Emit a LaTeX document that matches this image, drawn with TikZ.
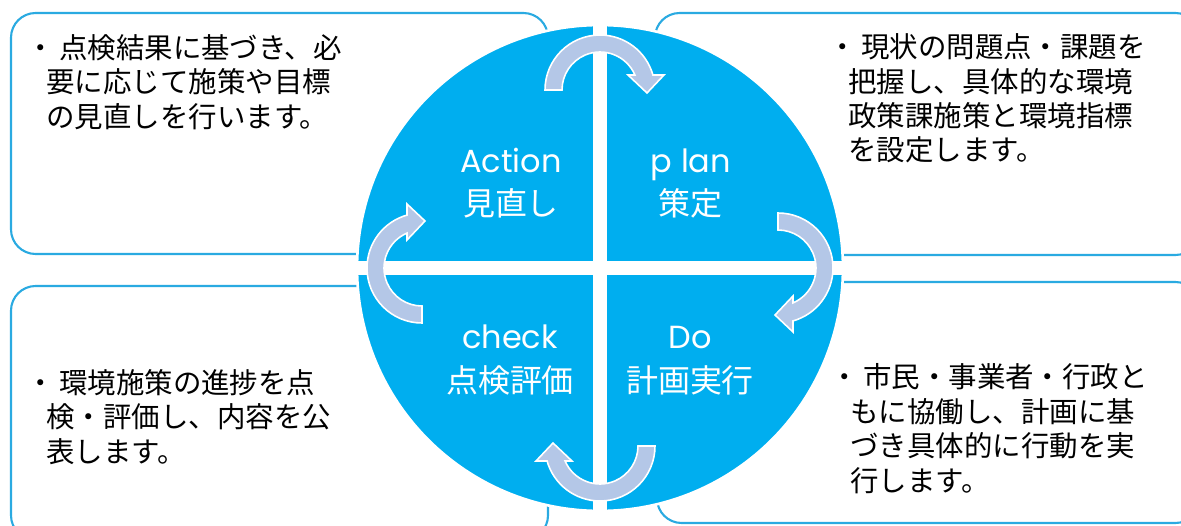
\documentclass[tikz,border=0pt]{standalone}
\usepackage{fontspec}
\setmainfont{Noto Sans CJK JP}
\newfontfamily\latinfont{Poppins}
\usetikzlibrary{positioning}
\definecolor{cyclefill}{HTML}{00AEEF}
\definecolor{boxline}{HTML}{2AAAE1}
\definecolor{arrowfill}{HTML}{B4C7E7}
\newcommand{\itemdot}{\hspace*{-0.7em}・\hspace{0.15em}}

\begin{document}
\begin{tikzpicture}[x=0.02cm, y=0.02cm,
    infobox/.style={draw=boxline, line width=1.2pt, fill=white, rounded corners=14pt},
    boxtext/.style={anchor=base west, align=left, inner sep=0pt, font=\fontsize{16.2}{19.6}\selectfont},
    phase/.style={anchor=base, text=white, inner sep=0pt, font=\fontsize{18.2}{21}\selectfont},
    cyclearrow/.style={fill=arrowfill, draw=white, line width=0.9pt}]
    \useasboundingbox (0,0) rectangle (1181,525);
    \clip (0,0) rectangle (1181,525);

    % four text boxes behind the circle
    \draw[infobox] (11,512) rectangle (548,271);
    \draw[infobox] (655,512) rectangle (1200,270);
    \draw[infobox] (11,239) rectangle (548,-15);
    \draw[infobox] (657,243) rectangle (1200,2);

    % PDCA circle
    \node[circle, fill=cyclefill, draw=white, line width=1.5pt, minimum size=9.72cm, inner sep=0pt] (cycle) at (600,257) {};
    \draw[white, line width=8pt] (cycle.north) -- (cycle.south);
    \draw[white, line width=7.5pt] (cycle.west) -- (cycle.east);

    % curved arrows, clockwise
    \foreach \k in {0,1,2,3}
        \path[cyclearrow, shift={(600,257)}, rotate=-90*\k, shift={(0,178)}]
            (180:55) arc[start angle=180, end angle=15.8, radius=55] -- (64,15) -- (47,-3) -- (28,15)
            -- (23.2:38) arc[start angle=23.2, end angle=180, radius=38] -- cycle;

    % labels in the circle
    \node[phase] (act) at (511,353) {\latinfont Action};
    \node[phase] (actjp) at (511,310) {見直し};
    \node[phase] (plan) at (691,353) {\latinfont p lan};
    \node[phase] (planjp) at (690,310) {策定};
    \node[phase] (check) at (510,177) {\latinfont check};
    \node[phase] (checkjp) at (510,133) {点検評価};
    \node[phase] (do) at (690,177) {\latinfont Do};
    \node[phase] (dojp) at (690,133) {計画実行};

    % box texts (base = last line)
    \node[boxtext] (acttext) at (46,398) {\itemdot 点検結果に基づき、必\\要に応じて施策や目標\\の見直しを行います。};
    \node[boxtext] (plantext) at (848,364) {\itemdot 現状の問題点・課題を\\把握し、具体的な環境\\政策課施策と環境指標\\を設定します。};
    \node[boxtext] (checktext) at (46,63) {\itemdot 環境施策の進捗を点\\検・評価し、内容を公\\表します。};
    \node[boxtext] (dotext) at (850,34) {\itemdot 市民・事業者・行政と\\もに協働し、計画に基\\づき具体的に行動を実\\行します。};
\end{tikzpicture}
\end{document}
